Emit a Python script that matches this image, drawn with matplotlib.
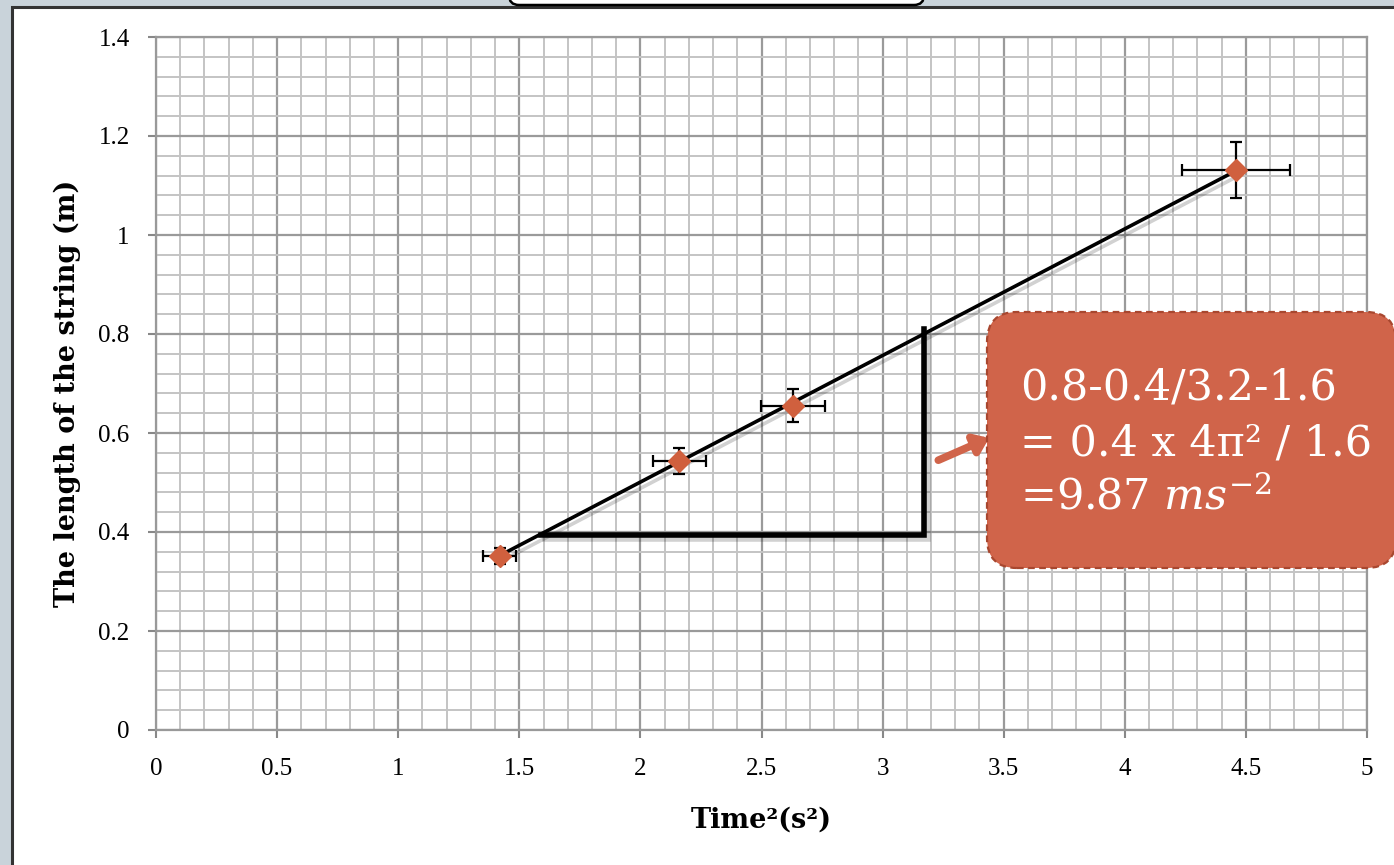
import matplotlib.pyplot as plt
import matplotlib.patheffects as pe
from matplotlib.patches import FancyBboxPatch, Rectangle
from matplotlib.ticker import MultipleLocator
from matplotlib.transforms import IdentityTransform

# measured points: time squared (s^2) vs string length (m)
time_sq = [1.42, 2.16, 2.63, 4.46]
length_m = [0.352, 0.543, 0.655, 1.131]
time_sq_err = [0.068, 0.109, 0.134, 0.223]
length_err = [0.016, 0.026, 0.033, 0.057]

# line of best fit and the gradient triangle
fit_x = [1.41, 4.46]
fit_y = [0.35, 1.13]
tri_x = [1.59, 3.17, 3.17]
tri_y = [0.394, 0.394, 0.81]

x_ticks = [0, 0.5, 1, 1.5, 2, 2.5, 3, 3.5, 4, 4.5, 5]
x_labels = ['0', '0.5', '1', '1.5', '2', '2.5', '3', '3.5', '4', '4.5', '5']
y_ticks = [0, 0.2, 0.4, 0.6, 0.8, 1.0, 1.2, 1.4]
y_labels = ['0', '0.2', '0.4', '0.6', '0.8', '1', '1.2', '1.4']

callout_lines = ['0.8-0.4/3.2-1.6', '= 0.4 x 4π² / 1.6', r'=9.87 $\mathit{ms}^{-2}$']

W, H = 1394, 865
plt.rcParams['mathtext.fontset'] = 'dejavuserif'
fig = plt.figure(figsize=(W / 100, H / 100), dpi=100, facecolor='#c9d3da')

# slide background: white panel with dark frame, plus the bottom of a title box
px = IdentityTransform()
fig.patches.append(Rectangle((11.5, -10), W + 20, H - 6.5 + 10, transform=px,
                             facecolor='white', edgecolor='#333333', lw=2.2, zorder=-10))
fig.patches.append(FancyBboxPatch((509, H - 5), 415, 40, transform=px,
                                  boxstyle='round,pad=0,rounding_size=10',
                                  facecolor='white', edgecolor='black', lw=1.8, zorder=-9))

ax = fig.add_axes([156 / W, 1 - 730 / H, (1367 - 156) / W, (730 - 37) / H])
ax.set_xlim(0, 5)
ax.set_ylim(0, 1.4)

ax.xaxis.set_major_locator(MultipleLocator(0.5))
ax.xaxis.set_minor_locator(MultipleLocator(0.1))
ax.yaxis.set_major_locator(MultipleLocator(0.2))
ax.yaxis.set_minor_locator(MultipleLocator(0.04))
ax.grid(which='minor', color='#c4c4c4', lw=1.4)
ax.grid(which='major', color='#9a9a9a', lw=1.6)
ax.set_axisbelow(True)

ax.set_xticks(x_ticks)
ax.set_xticklabels(x_labels)
ax.set_yticks(y_ticks)
ax.set_yticklabels(y_labels)
ax.tick_params(axis='both', which='major', labelsize=18, labelfontfamily='Liberation Serif',
               length=6, width=1.5, color='#888888')
ax.tick_params(axis='x', which='major', pad=14)
ax.tick_params(axis='y', which='major', pad=13)
ax.tick_params(which='minor', length=0)
for side in ['left', 'bottom', 'top', 'right']:
    ax.spines[side].set_color('#999999')
    ax.spines[side].set_linewidth(1.6)

shadow = [pe.SimpleLineShadow(offset=(3, -3), alpha=0.18, shadow_color='black'), pe.Normal()]
ax.plot(fit_x, fit_y, color='black', lw=2.6, path_effects=shadow, zorder=3)
ax.plot(tri_x, tri_y, color='black', lw=4, path_effects=shadow, zorder=3,
        solid_joinstyle='miter')

ax.errorbar(time_sq, length_m, xerr=time_sq_err, yerr=length_err, fmt='none',
            ecolor='black', elinewidth=1.6, capsize=4.5, capthick=1.6, zorder=4)
ax.plot(time_sq, length_m, 'D', color='#d0603e', markersize=11, zorder=5)

ax.annotate('', xy=(3.44, 0.59), xytext=(3.23, 0.545),
            arrowprops=dict(arrowstyle='-|>,head_length=0.8,head_width=0.6',
                            lw=5.5, color='#d0644a', shrinkA=0, shrinkB=0), zorder=6)

ax.set_xlabel('Time²(s²)', fontfamily='DejaVu Serif', fontweight='bold', fontsize=19.5)
ax.set_ylabel('The length of the string (m)', fontfamily='DejaVu Serif',
              fontweight='bold', fontsize=19.5)
ax.xaxis.set_label_coords(0.5, -0.11)
ax.yaxis.set_label_coords(-0.062, 0.486)

# callout with the gradient calculation
fig.patches.append(FancyBboxPatch((987, H - 568), 409, 256, transform=px,
                                  boxstyle='round,pad=0,rounding_size=30',
                                  facecolor='#d0644a', edgecolor='#a8472f', lw=1.6,
                                  linestyle=(0, (3, 2)), zorder=10))
for i, line in enumerate(callout_lines):
    fig.text(1020 / W, 1 - (400 + 55 * i) / H, line, color='white', fontsize=31,
             fontfamily='DejaVu Serif', va='baseline', ha='left', zorder=11)

fig.savefig('out.png', dpi=100, facecolor=fig.get_facecolor())
